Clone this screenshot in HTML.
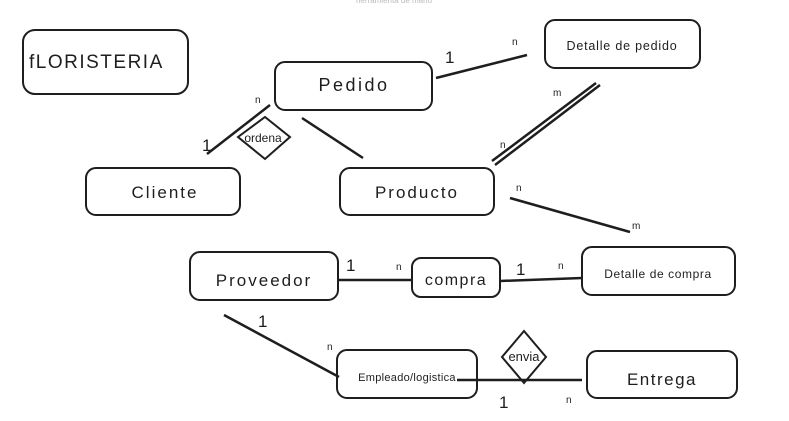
<!DOCTYPE html>
<html><head><meta charset="utf-8"><style>
html,body{margin:0;padding:0;background:#fff;}
svg{display:block;}
text{font-family:"Liberation Sans",sans-serif;fill:#1e1e1e;}
.b{fill:none;stroke:#1e1e1e;stroke-width:2;}
.l{stroke:#1e1e1e;stroke-width:2.5;fill:none;}
</style></head><body>
<svg width="789" height="421" viewBox="0 0 789 421">
<text x="394" y="3" font-size="8" text-anchor="middle" style="fill:#bbb">herramienta de mano</text>
<rect class="b" x="23" y="30" width="165" height="64" rx="12"/>
<text x="29" y="68" font-size="19" letter-spacing="1.5">fLORISTERIA</text>
<rect class="b" x="275" y="62" width="157" height="48" rx="10"/>
<text x="354" y="91" font-size="18" letter-spacing="2.5" text-anchor="middle">Pedido</text>
<rect class="b" x="545" y="20" width="155" height="48" rx="10"/>
<text x="622" y="50" font-size="12.5" letter-spacing="0.8" text-anchor="middle">Detalle de pedido</text>
<rect class="b" x="86" y="168" width="154" height="47" rx="10"/>
<text x="165" y="198" font-size="17" letter-spacing="2" text-anchor="middle">Cliente</text>
<rect class="b" x="340" y="168" width="154" height="47" rx="10"/>
<text x="417" y="198" font-size="17" letter-spacing="2" text-anchor="middle">Producto</text>
<rect class="b" x="190" y="252" width="148" height="48" rx="10"/>
<text x="264" y="286" font-size="17" letter-spacing="2" text-anchor="middle">Proveedor</text>
<rect class="b" x="412" y="258" width="88" height="39" rx="9"/>
<text x="456" y="285" font-size="16" letter-spacing="1.5" text-anchor="middle">compra</text>
<rect class="b" x="582" y="247" width="153" height="48" rx="10"/>
<text x="658" y="278" font-size="12" letter-spacing="0.6" text-anchor="middle">Detalle de compra</text>
<rect class="b" x="337" y="350" width="140" height="48" rx="10"/>
<text x="407" y="381" font-size="11" letter-spacing="0.3" text-anchor="middle">Empleado/logistica</text>
<rect class="b" x="587" y="351" width="150" height="47" rx="10"/>
<text x="662" y="385" font-size="17" letter-spacing="1.5" text-anchor="middle">Entrega</text>
<polygon class="b" points="265,117 290,137 265,159 238,137"/>
<text x="263" y="142" font-size="12" text-anchor="middle">ordena</text>
<polygon class="b" points="524,331 546,357 524,383 502,357"/>
<text x="524" y="361" font-size="13" text-anchor="middle">envia</text>
<line class="l" x1="436" y1="78" x2="527" y2="55"/>
<line class="l" x1="270" y1="105" x2="207" y2="154"/>
<line class="l" x1="302" y1="118" x2="363" y2="158"/>
<line class="l" x1="600" y1="85" x2="495" y2="165" stroke-width="1.5"/>
<line class="l" x1="596" y1="83" x2="492" y2="161" stroke-width="1.5"/>
<line class="l" x1="510" y1="198" x2="630" y2="232"/>
<line class="l" x1="338" y1="280" x2="412" y2="280" stroke-width="2"/>
<line class="l" x1="500" y1="281" x2="582" y2="278" stroke-width="2"/>
<line class="l" x1="224" y1="315" x2="339" y2="377"/>
<line class="l" x1="457" y1="380" x2="582" y2="380"/>
<g font-size="17">
<text x="445" y="63">1</text><text x="202" y="151">1</text>
<text x="346" y="271">1</text><text x="516" y="275">1</text>
<text x="258" y="327">1</text><text x="499" y="408">1</text>
</g>
<g font-size="10">
<text x="512" y="45">n</text><text x="255" y="103">n</text>
<text x="553" y="96">m</text><text x="500" y="148">n</text>
<text x="516" y="191">n</text><text x="632" y="229">m</text>
<text x="396" y="270">n</text><text x="558" y="269">n</text>
<text x="327" y="350">n</text><text x="566" y="403">n</text>
</g>
</svg>
</body></html>
